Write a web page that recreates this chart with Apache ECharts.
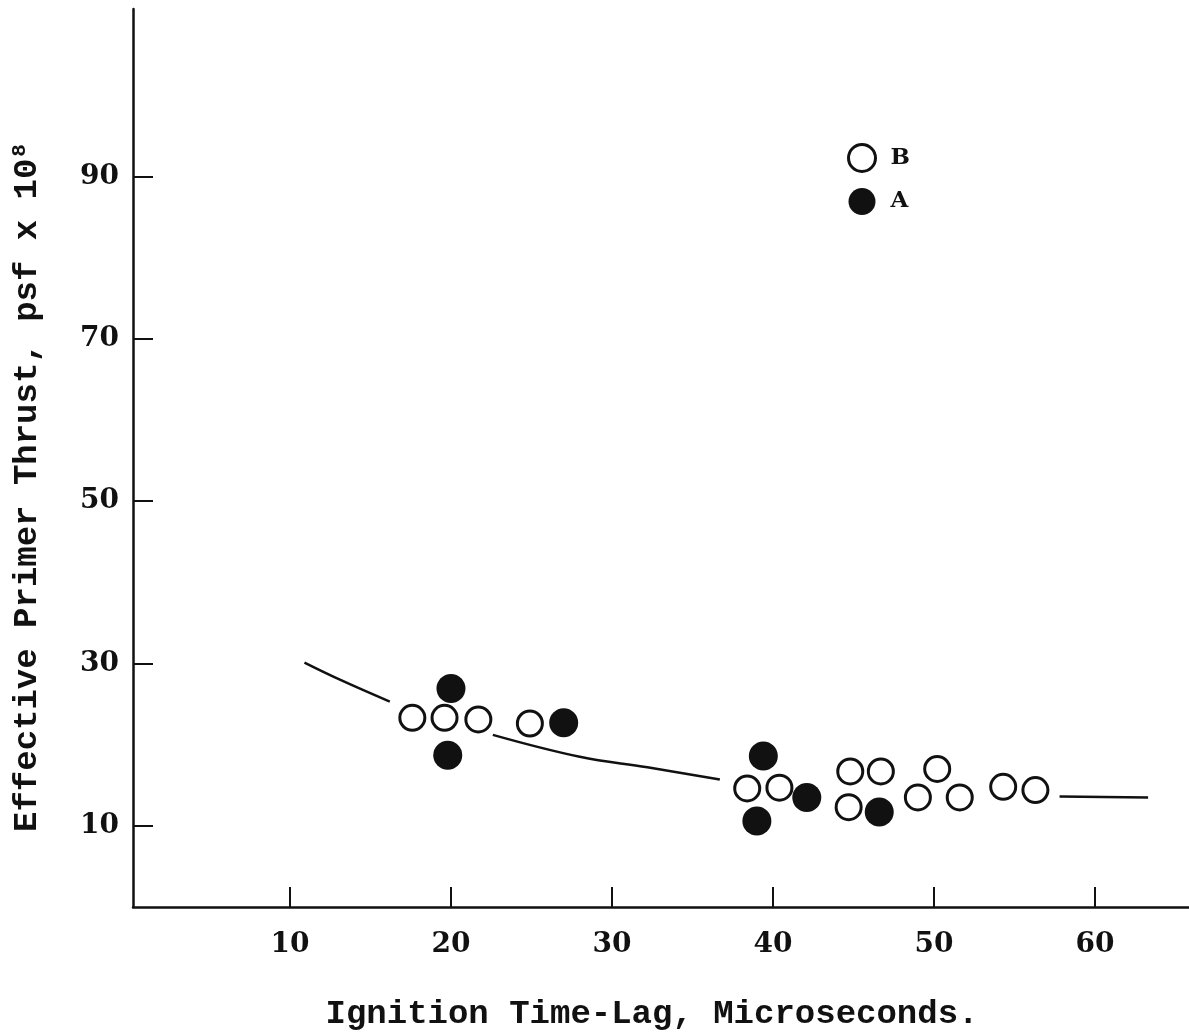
<!DOCTYPE html>
<html>
<head>
<meta charset="utf-8">
<title>Effective Primer Thrust vs Ignition Time-Lag</title>
<script src="https://cdn.jsdelivr.net/npm/echarts@6/dist/echarts.min.js"></script>
<style>
  html, body { margin: 0; padding: 0; background: #ffffff; }
  #chart { width: 1189px; height: 1032px; }
</style>
</head>
<body>
<div id="chart"></div>
<script>
// Open circles (B): ignition time-lag (microseconds) and effective primer thrust
const seriesBX = [17.6, 19.6, 21.7, 24.9, 38.4, 40.4, 44.8, 46.7, 44.7, 50.2, 49.0, 51.6, 54.3, 56.3];
const seriesBY = [23.3, 23.3, 23.1, 22.6, 14.6, 14.7, 16.7, 16.7, 12.3, 17.0, 13.5, 13.5, 14.8, 14.4];

// Filled circles (A)
const seriesAX = [20.0, 19.8, 27.0, 39.4, 39.0, 42.1, 46.6];
const seriesAY = [26.9, 18.7, 22.7, 18.6, 10.6, 13.5, 11.7];

// Faired curve; null entries leave the gaps where the curve passes the data clusters
const curveX = [10.9, 13.1, 16.2, null, 22.6, 28.0, 32.2, 36.7, null, 57.8, 63.3];
const curveY = [30.1, 28.0, 25.3, null, 21.2, 18.5, 17.2, 15.7, null, 13.6, 13.5];

// Axis tick labels
const xTicks = [10, 20, 30, 40, 50, 60];
const yTicks = [10, 30, 50, 70, 90];

const pairs = (xs, ys) => xs.map((x, i) => [x, ys[i]]);
const curveData = curveX.map((x, i) => (x === null ? ['-', '-'] : [x, curveY[i]]));

const ink = '#111111';
const numFont = '"DejaVu Serif", serif';
const monoFont = '"Liberation Mono", "DejaVu Sans Mono", monospace';

const openStyle = { color: '#ffffff', borderColor: ink, borderWidth: 3, opacity: 1 };
const filledStyle = { color: ink, borderColor: ink, borderWidth: 0, opacity: 1 };

const chart = echarts.init(document.getElementById('chart'), null, { renderer: 'canvas' });

chart.setOption({
  backgroundColor: '#ffffff',
  animation: false,
  grid: { left: 133, right: 0, top: 9, bottom: 125, containLabel: false, outerBoundsMode: 'none' },
  legend: {
    orient: 'vertical',
    left: 842,
    top: 138,
    itemWidth: 27,
    itemHeight: 27,
    itemGap: 15,
    icon: 'circle',
    textStyle: { color: ink, fontFamily: numFont, fontWeight: 'bold', fontSize: 23, padding: [0, 0, 0, 10] },
    data: [
      { name: 'B', itemStyle: openStyle },
      { name: 'A', itemStyle: filledStyle }
    ]
  },
  xAxis: {
    type: 'value',
    min: 0.25,
    max: 65.84,
    name: 'Ignition Time-Lag, Microseconds.',
    nameLocation: 'middle',
    nameGap: 90,
    nameTextStyle: { color: ink, fontFamily: monoFont, fontWeight: 'bold', fontSize: 34, padding: [0, 18, 0, 0] },
    splitLine: { show: false },
    axisLine: { show: true, lineStyle: { color: ink, width: 2.5 } },
    axisTick: { show: true, inside: true, length: 20, customValues: xTicks, lineStyle: { color: ink, width: 2 } },
    axisLabel: { customValues: xTicks, color: ink, fontFamily: numFont, fontWeight: 'bold', fontSize: 28, margin: 24 }
  },
  yAxis: {
    type: 'value',
    min: 0,
    max: 110.6,
    name: '{m|Effective Primer Thrust, psf x 10}{s|8}',
    nameLocation: 'middle',
    nameGap: 88,
    nameRotate: 90,
    nameTextStyle: {
      color: ink,
      padding: [0, 60, 0, 0],
      rich: {
        m: { fontFamily: monoFont, fontWeight: 'bold', fontSize: 34, color: ink, lineHeight: 36 },
        s: { fontFamily: monoFont, fontWeight: 'bold', fontSize: 21, color: ink, verticalAlign: 'top', lineHeight: 36, padding: [0, 0, 14, 2] }
      }
    },
    splitLine: { show: false },
    axisLine: { show: true, lineStyle: { color: ink, width: 2.5 } },
    axisTick: { show: true, inside: true, length: 20, customValues: yTicks, lineStyle: { color: ink, width: 2 } },
    axisLabel: { customValues: yTicks, color: ink, fontFamily: numFont, fontWeight: 'bold', fontSize: 28, margin: 14 }
  },
  series: [
    {
      name: 'curve',
      type: 'line',
      data: curveData,
      smooth: 0.4,
      connectNulls: false,
      showSymbol: false,
      symbol: 'none',
      lineStyle: { color: ink, width: 2.5 },
      z: 1,
      silent: true
    },
    {
      name: 'B',
      type: 'scatter',
      data: pairs(seriesBX, seriesBY),
      symbol: 'circle',
      symbolSize: 25,
      itemStyle: openStyle,
      z: 3
    },
    {
      name: 'A',
      type: 'scatter',
      data: pairs(seriesAX, seriesAY),
      symbol: 'circle',
      symbolSize: 29,
      itemStyle: filledStyle,
      z: 4
    }
  ]
});
</script>
</body>
</html>
